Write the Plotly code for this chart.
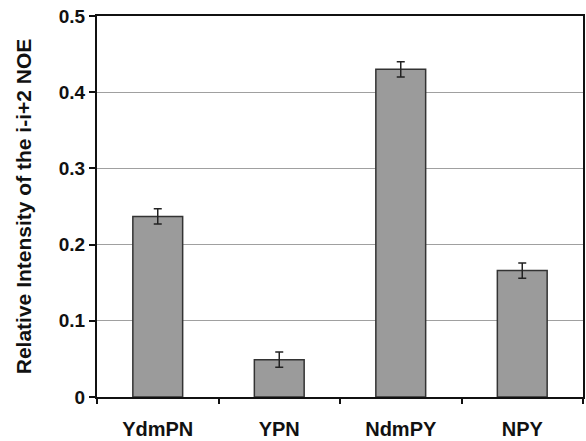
import plotly.graph_objects as go

categories = ["YdmPN", "YPN", "NdmPY", "NPY"]
values = [0.237, 0.049, 0.430, 0.166]
errors = [0.010, 0.010, 0.010, 0.010]
y_ticks = [0, 0.1, 0.2, 0.3, 0.4, 0.5]
y_tick_labels = ["0", "0.1", "0.2", "0.3", "0.4", "0.5"]

FONT = "Liberation Sans, Arial, sans-serif"

fig = go.Figure(go.Bar(
    x=categories, y=values,
    width=0.41,
    marker=dict(color="#9b9b9b", line=dict(color="#333333", width=1.5)),
    error_y=dict(type="data", array=errors, visible=True, color="#222222", thickness=1.5, width=4),
))

fig.update_layout(
    width=586, height=441,
    margin=dict(l=97, r=1, t=16, b=44),
    paper_bgcolor="white", plot_bgcolor="white",
    font=dict(family=FONT, color="#111111"),
    showlegend=False,
)
fig.update_xaxes(
    showline=True, linecolor="#111111", linewidth=2, mirror=True,
    ticks="outside", tickson="boundaries", ticklen=5, tickcolor="#111111", tickwidth=1.5,
    tickfont=dict(size=20, family=FONT),
    tickprefix="<b>", ticksuffix="</b>",
    ticklabelstandoff=13,
    range=[-0.5, 3.5],
)
fig.update_yaxes(
    range=[0, 0.5], tickvals=y_ticks, ticktext=["<b>%s</b>" % t for t in y_tick_labels],
    showline=True, linecolor="#111111", linewidth=2, mirror=True,
    ticks="outside", ticklen=6, tickcolor="#111111", tickwidth=1.5,
    showgrid=True, gridcolor="#a0a0a0", gridwidth=1,
    tickfont=dict(size=19),
    title=dict(text="<b>Relative Intensity of the i-i+2 NOE</b>", font=dict(size=21), standoff=21),
    zeroline=False,
)

fig.write_html(
    "out.html",
    config={"displayModeBar": False},
    post_script="document.body.style.margin='0';document.body.style.overflow='hidden';",
)
